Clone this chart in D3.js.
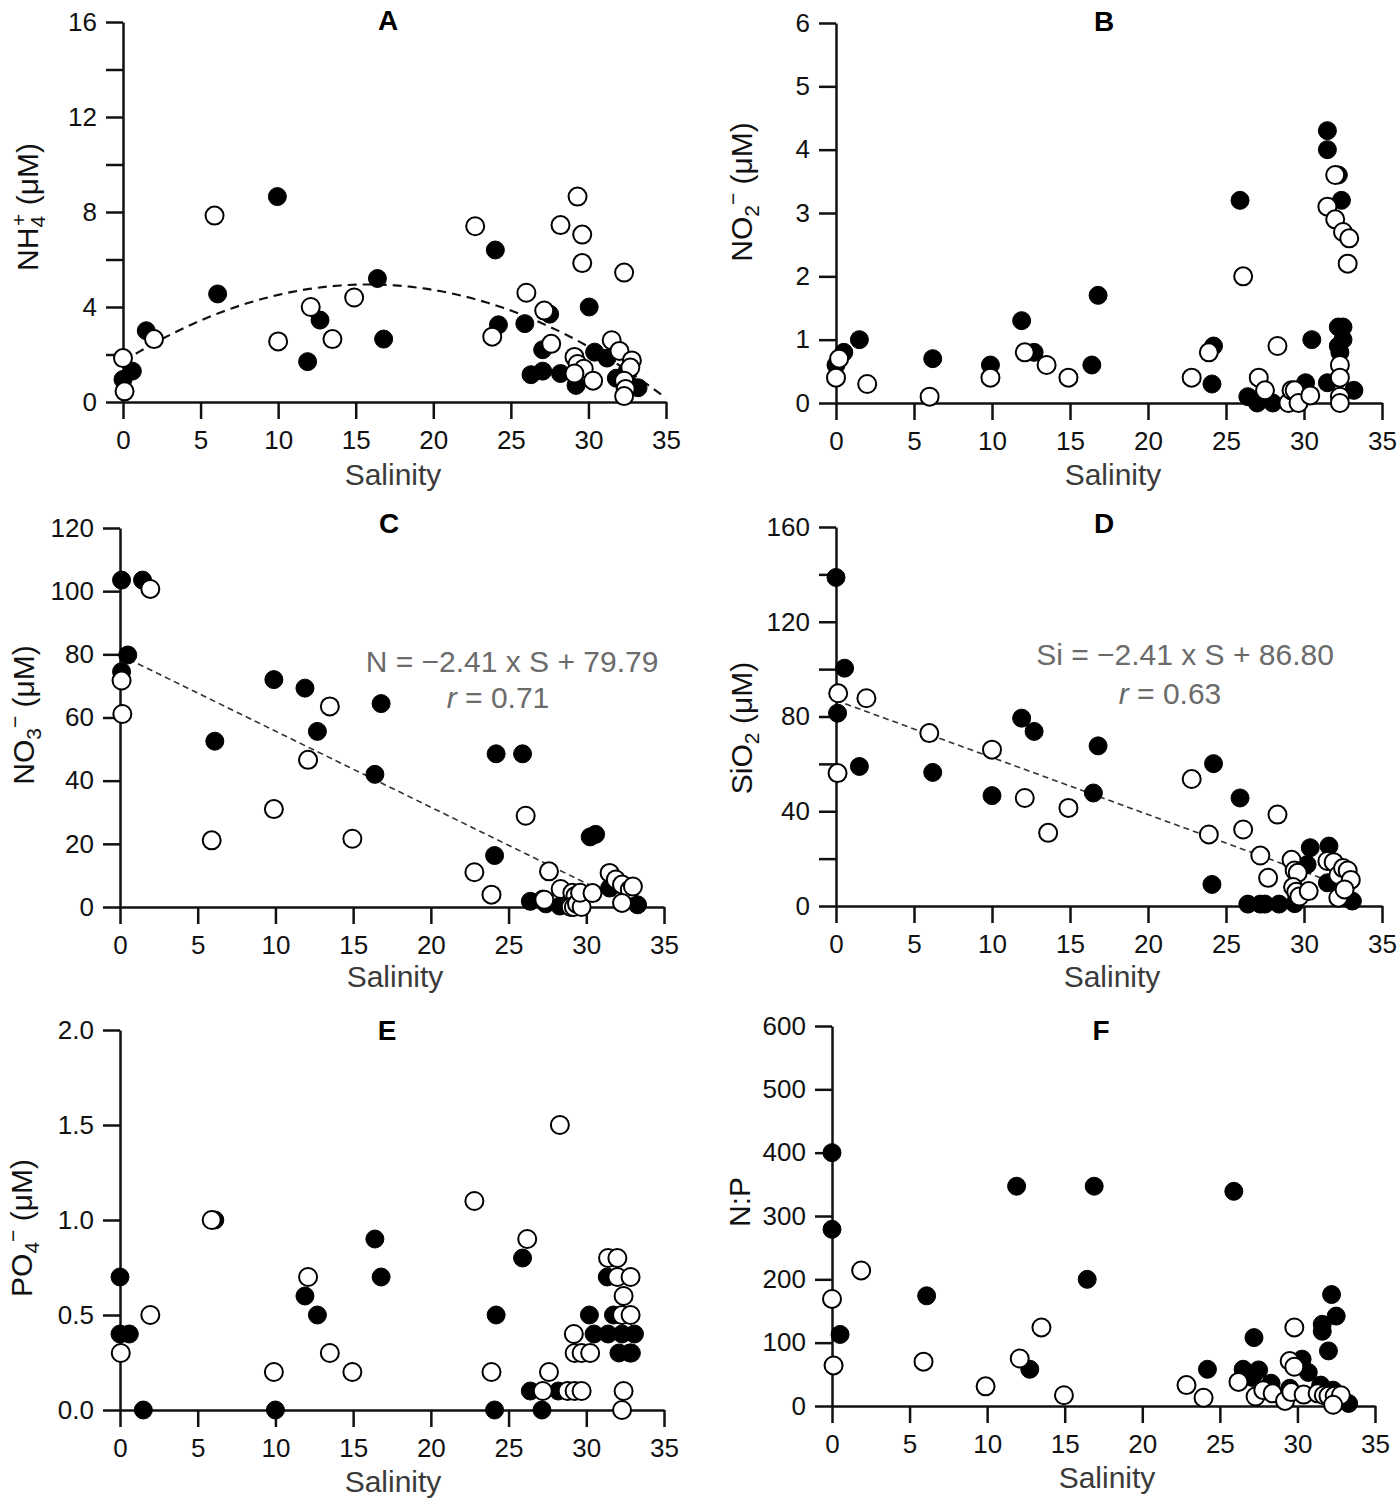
<!DOCTYPE html>
<html>
<head>
<meta charset="utf-8">
<script src="https://cdn.jsdelivr.net/npm/d3@7"></script>
<style>
  body { margin: 0; background: #fff; }
  svg { display: block; font-family: "Liberation Sans", Arial, sans-serif; }
</style>
</head>
<body>
<svg id="chart" width="1400" height="1505"></svg>
<script>
const width = 1400, height = 1505;
const svg = d3.select("#chart");

// salinity axis shared by all panels
const xTicks = [0, 5, 10, 15, 20, 25, 30, 35];

// A: NH4+ (uM)  [salinity, value]
const nh4Filled = [[0.0,0.95],[0.6,1.3],[1.5,3.0],[6.1,4.55],[9.95,8.65],[11.9,1.7],[12.7,3.45],[16.4,5.2],[16.8,2.65],
  [24.0,6.4],[24.2,3.25],[25.9,3.3],[26.3,1.15],[27.05,1.3],[27.05,2.2],[27.5,3.7],[28.2,1.2],[29.2,0.7],
  [30.05,4.0],[30.4,2.1],[31.2,1.85],[31.8,1.0],[32.5,1.3],[33.2,0.6],[32.6,0.75]];
const nh4Open = [[0.0,1.85],[0.1,0.45],[2.0,2.65],[5.9,7.85],[10.0,2.55],[12.1,4.0],[13.5,2.65],[14.9,4.4],
  [22.7,7.4],[23.8,2.75],[26.0,4.6],[27.15,3.85],[27.6,2.45],[28.2,7.45],[29.3,8.65],[29.6,7.05],[29.6,5.85],
  [29.1,1.9],[29.3,1.6],[29.7,1.4],[29.1,1.2],[30.3,0.9],[31.5,2.6],[32.0,2.15],[32.3,5.45],[32.8,1.75],
  [32.7,1.45],[32.3,0.9],[32.4,0.55],[32.3,0.25]];
const nh4Ticks = [0, 2, 4, 6, 8, 10, 12, 14, 16];
const nh4Fit = [1.7, 0.411, -0.0130];   // quadratic fit a + bS + cS^2

// B: NO2- (uM)
const no2Filled = [[0.0,0.6],[0.5,0.8],[1.5,1.0],[6.2,0.7],[9.9,0.6],[11.9,1.3],[12.7,0.8],[16.4,0.6],[16.8,1.7],
  [24.2,0.9],[24.1,0.3],[25.9,3.2],[26.4,0.1],[27.0,0.0],[28.0,0.0],[30.1,0.32],[30.5,1.0],[31.5,0.32],
  [31.5,4.3],[31.5,4.0],[32.2,3.6],[32.4,3.2],[32.2,1.2],[32.5,1.2],[32.2,0.9],[32.5,1.0],[32.3,0.8],[33.2,0.2]];
const no2Open = [[0.0,0.4],[0.2,0.7],[2.0,0.3],[6.0,0.1],[9.9,0.4],[12.1,0.8],[13.5,0.6],[14.9,0.4],[22.8,0.4],
  [23.9,0.8],[26.1,2.0],[27.1,0.4],[27.5,0.2],[28.3,0.9],[29.0,0.0],[29.2,0.2],[29.4,0.2],[29.65,0.0],[30.4,0.12],
  [31.5,3.1],[32.0,3.6],[32.0,2.9],[32.5,2.7],[32.9,2.6],[32.8,2.2],[32.3,0.6],[32.3,0.4],[32.3,0.1],[32.3,0.0]];
const no2Ticks = [0, 1, 2, 3, 4, 5, 6];

// C: NO3- (uM)
const no3Filled = [[0.1,103.5],[1.45,103.5],[0.5,79.8],[0.1,74.5],[6.1,52.5],[9.9,72.0],[11.9,69.3],[12.7,55.6],
  [16.4,42.0],[16.8,64.4],[24.1,16.3],[24.2,48.5],[25.9,48.5],[26.4,1.8],[27.2,2.5],[27.4,1.0],[28.3,0.3],
  [29.0,0.5],[30.25,22.2],[30.6,23.0],[31.5,6.0],[31.9,7.5],[33.3,0.7]];
const no3Open = [[1.95,100.7],[0.1,71.7],[0.15,61.1],[5.9,21.1],[9.9,31.0],[12.1,46.6],[13.5,63.5],[14.95,21.6],
  [22.8,11.0],[23.9,3.9],[26.1,28.9],[27.3,2.3],[27.6,11.3],[28.35,5.7],[29.1,4.5],[29.3,3.5],[29.0,0.0],
  [29.2,0.0],[29.4,1.0],[29.7,0.0],[29.6,4.5],[30.4,4.4],[31.5,10.8],[31.9,8.7],[32.3,7.1],[32.8,5.5],
  [33.0,6.5],[32.3,1.3]];
const no3Ticks = [0, 20, 40, 60, 80, 100, 120];
const no3Fit = [79.79, -2.41, 31];       // intercept, slope, last salinity

// D: SiO2 (uM)
const sioFilled = [[0.0,138.7],[0.55,100.4],[0.1,81.4],[1.5,58.9],[6.2,56.4],[10.0,46.6],[11.9,79.3],[12.7,73.7],
  [16.5,47.7],[16.8,67.6],[24.2,60.1],[24.1,9.1],[25.9,45.6],[26.4,0.8],[27.2,0.8],[27.5,0.8],[28.4,0.8],
  [29.4,1.0],[30.2,17.5],[30.4,24.6],[31.6,25.3],[31.5,9.8],[33.1,2.1]];
const sioOpen = [[0.14,89.8],[1.95,87.7],[0.1,56.1],[5.98,73.0],[10.0,66.0],[12.1,45.6],[13.6,30.9],[14.9,41.4],
  [22.8,53.6],[23.9,30.2],[26.1,32.3],[27.2,21.3],[27.7,11.9],[28.3,38.6],[29.2,19.5],[29.4,15.0],[29.6,14.0],
  [29.3,8.0],[29.5,6.0],[29.7,4.0],[30.3,6.3],[31.5,19.0],[31.9,18.5],[32.2,13.0],[32.5,16.0],[32.8,15.0],
  [33.0,11.0],[32.2,3.5],[32.6,7.0]];
const sioTicks = [0, 20, 40, 60, 80, 100, 120, 140, 160];
const sioFit = [86.80, -2.41, 33];

// E: PO4- (uM)
const po4Filled = [[0.0,0.7],[0.0,0.4],[0.6,0.4],[1.5,0.0],[6.1,1.0],[10.0,0.0],[11.9,0.6],[12.7,0.5],[16.4,0.9],
  [16.8,0.7],[24.1,0.0],[24.2,0.5],[25.9,0.8],[26.4,0.1],[27.15,0.0],[28.2,0.1],[30.2,0.5],[30.5,0.4],[31.4,0.4],
  [31.35,0.7],[31.75,0.5],[32.3,0.4],[32.1,0.3],[32.8,0.3],[33.1,0.4],[32.9,0.3]];
const po4Open = [[0.05,0.3],[1.95,0.5],[5.9,1.0],[9.9,0.2],[12.1,0.7],[13.5,0.3],[14.95,0.2],[22.8,1.1],[23.9,0.2],
  [26.2,0.9],[27.2,0.1],[27.6,0.2],[28.3,1.5],[28.8,0.1],[29.25,0.1],[29.7,0.1],[29.2,0.4],[29.25,0.3],[29.7,0.3],
  [30.25,0.3],[31.4,0.8],[32.0,0.8],[32.0,0.7],[32.3,0.5],[32.4,0.6],[32.85,0.7],[32.85,0.5],[32.4,0.1],[32.3,0.0]];
const po4Ticks = [0, 0.5, 1.0, 1.5, 2.0];

// F: N:P
const npFilled = [[0.0,400],[0.0,279],[0.52,113],[6.1,174],[11.9,347],[12.75,58],[16.45,200],[16.9,347],[24.2,58],
  [25.9,339],[26.5,58],[27.2,108],[27.5,57],[27.1,45],[28.3,36],[29.5,28],[30.3,74],[30.7,53],[31.5,33],
  [31.6,129],[31.6,118],[32.0,87],[32.2,176],[32.5,142],[32.3,25],[33.3,4]];
const npOpen = [[0.0,169],[0.1,64],[1.88,214],[5.9,70],[9.9,31],[12.1,75],[13.5,124],[14.95,17],[22.85,33],
  [23.95,13],[26.2,38],[27.3,15],[27.8,25],[28.4,20],[29.2,8],[29.5,71],[29.8,62],[29.8,124],[29.6,22],
  [30.4,18],[31.3,20],[31.7,17],[32.0,16],[32.4,16],[32.8,17],[32.3,2]];
const npTicks = [0, 100, 200, 300, 400, 500, 600];

const sub = (t) => ({ t, sub: true });
const sup = (t, back) => ({ t, sup: true, back });

const panels = [
  { title: "A", filled: nh4Filled, open: nh4Open, ticks: nh4Ticks, every: 4, fmt: d3.format("d"),
    frame: { l: 123, r: 666, b: 402, t: 22 }, titlePos: [388, 30], xlabPos: [393, 485],
    ylab: { x: 38, y: 207, parts: [{ t: "NH" }, sub("4"), sup("+", true), { t: " (\u03bcM)" }] }, curve: nh4Fit },
  { title: "B", filled: no2Filled, open: no2Open, ticks: no2Ticks, every: 1, fmt: d3.format("d"),
    frame: { l: 836, r: 1382, b: 403, t: 23 }, titlePos: [1104, 31], xlabPos: [1113, 485],
    ylab: { x: 752, y: 192, parts: [{ t: "NO" }, sub("2"), sup("\u2212"), { t: " (\u03bcM)" }] } },
  { title: "C", filled: no3Filled, open: no3Open, ticks: no3Ticks, every: 20, fmt: d3.format("d"),
    frame: { l: 120, r: 664, b: 907, t: 528 }, titlePos: [389, 533], xlabPos: [395, 987],
    ylab: { x: 34, y: 715, parts: [{ t: "NO" }, sub("3"), sup("\u2212"), { t: " (\u03bcM)" }] },
    fit: no3Fit, eq: { lead: "N", x: 512, y: 672, rx: 498, ry: 708, r: "0.71" } },
  { title: "D", filled: sioFilled, open: sioOpen, ticks: sioTicks, every: 40, fmt: d3.format("d"),
    frame: { l: 836, r: 1382, b: 906, t: 527 }, titlePos: [1104, 533], xlabPos: [1112, 987],
    ylab: { x: 752, y: 728, parts: [{ t: "SiO" }, sub("2"), { t: " (\u03bcM)" }] },
    fit: sioFit, eq: { lead: "Si", x: 1185, y: 665, rx: 1170, ry: 704, r: "0.63" } },
  { title: "E", filled: po4Filled, open: po4Open, ticks: po4Ticks, every: 0.5, fmt: d3.format(".1f"),
    frame: { l: 120, r: 664, b: 1410, t: 1030 }, titlePos: [387, 1040], xlabPos: [393, 1492],
    ylab: { x: 32, y: 1228, parts: [{ t: "PO" }, sub("4"), sup("\u2212"), { t: " (\u03bcM)" }] } },
  { title: "F", filled: npFilled, open: npOpen, ticks: npTicks, every: 100, fmt: d3.format("d"),
    frame: { l: 832, r: 1375, b: 1406, t: 1026 }, titlePos: [1101, 1040], xlabPos: [1107, 1488],
    ylab: { x: 750, y: 1202, parts: [{ t: "N:P" }] } }
];

const tickLen = 17, axisW = 2.5, dotR = 9;

panels.forEach(p => {
  const f = p.frame;
  const x = d3.scaleLinear().domain([0, 35]).range([f.l, f.r]);
  const yMax = p.ticks[p.ticks.length - 1];
  const y = d3.scaleLinear().domain([0, yMax]).range([f.b, f.t]);
  const g = svg.append("g");

  // axes
  const xAxis = d3.axisBottom(x).tickValues(xTicks).tickSize(tickLen).tickSizeOuter(0).tickPadding(12);
  const yAxis = d3.axisLeft(y).tickValues(p.ticks).tickSize(tickLen).tickSizeOuter(0).tickPadding(9)
    .tickFormat(d => (Math.abs(d / p.every - Math.round(d / p.every)) < 1e-6) ? p.fmt(d) : "");

  [g.append("g").attr("transform", `translate(0,${f.b})`).call(xAxis),
   g.append("g").attr("transform", `translate(${f.l},0)`).call(yAxis)].forEach(a => {
    a.selectAll("path, line").attr("stroke", "#111").attr("stroke-width", axisW);
    a.selectAll("text").attr("font-size", 26).attr("fill", "#111")
      .attr("font-family", '"Liberation Sans", Arial, sans-serif');
  });

  // fitted lines
  if (p.curve) {
    const [a, b, c] = p.curve;
    const xs = d3.range(0, 35.01, 0.5);
    g.append("path")
      .attr("d", d3.line().x(s => x(s)).y(s => y(a + b * s + c * s * s))(xs))
      .attr("fill", "none").attr("stroke", "#111").attr("stroke-width", 2.2)
      .attr("stroke-dasharray", "9,6");
  }
  if (p.fit) {
    const [a, b, sEnd] = p.fit;
    g.append("path")
      .attr("d", d3.line().x(s => x(s)).y(s => y(a + b * s))([0, sEnd]))
      .attr("fill", "none").attr("stroke", "#333").attr("stroke-width", 1.6)
      .attr("stroke-dasharray", "6,4");
  }

  // points: filled first, open on top
  g.append("g").selectAll("circle").data(p.filled).join("circle")
    .attr("cx", d => x(d[0])).attr("cy", d => y(d[1])).attr("r", dotR)
    .attr("fill", "#000").attr("stroke", "#000").attr("stroke-width", 1);
  g.append("g").selectAll("circle").data(p.open).join("circle")
    .attr("cx", d => x(d[0])).attr("cy", d => y(d[1])).attr("r", dotR)
    .attr("fill", "#fff").attr("stroke", "#000").attr("stroke-width", 2);

  // titles and labels
  g.append("text").attr("x", p.titlePos[0]).attr("y", p.titlePos[1])
    .attr("text-anchor", "middle").attr("font-size", 28).attr("font-weight", "bold")
    .attr("fill", "#000").text(p.title);

  g.append("text").attr("x", p.xlabPos[0]).attr("y", p.xlabPos[1])
    .attr("text-anchor", "middle").attr("font-size", 30).attr("fill", "#3a3a3a").text("Salinity");

  const yl = g.append("text")
    .attr("transform", `translate(${p.ylab.x},${p.ylab.y}) rotate(-90)`)
    .attr("text-anchor", "middle").attr("font-size", 30).attr("fill", "#111");
  let shift = 0;
  p.ylab.parts.forEach(part => {
    const ts = yl.append("tspan").text(part.t);
    if (part.sub) {
      ts.attr("font-size", 21).attr("dy", 7 - shift); shift = 7;
    } else if (part.sup) {
      ts.attr("font-size", 21).attr("dy", -12 - shift); shift = -12;
      if (part.back) ts.attr("dx", -10);
    } else if (shift !== 0) {
      ts.attr("dy", -shift); shift = 0;
    }
  });

  if (p.eq) {
    const e = p.eq;
    g.append("text").attr("x", e.x).attr("y", e.y).attr("text-anchor", "middle")
      .attr("font-size", 30).attr("fill", "#6b6b6b")
      .text(`${e.lead} = \u22122.41 x S + ${d3.format(".2f")(p.fit[0])}`);
    const r = g.append("text").attr("x", e.rx).attr("y", e.ry).attr("text-anchor", "middle")
      .attr("font-size", 30).attr("fill", "#6b6b6b");
    r.append("tspan").attr("font-style", "italic").text("r");
    r.append("tspan").text(` = ${e.r}`);
  }
});
</script>
</body>
</html>
